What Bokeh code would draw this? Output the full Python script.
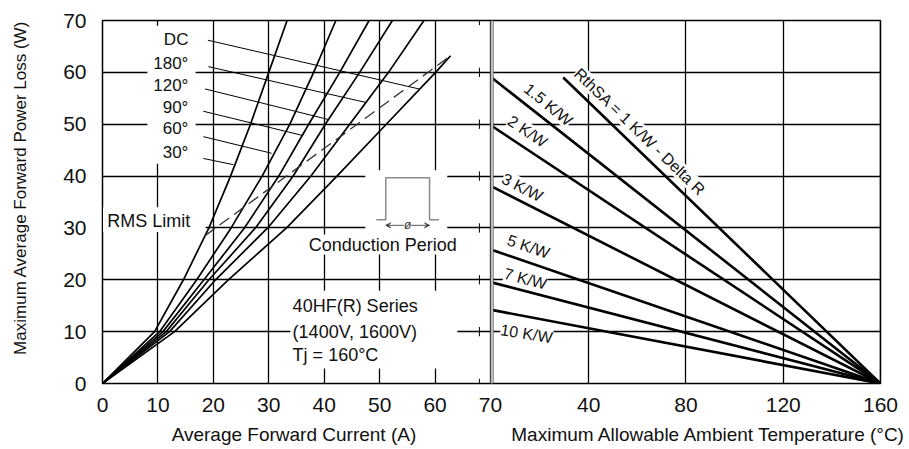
from bokeh.plotting import figure
from bokeh.models import (Label, BoxAnnotation, FixedTicker, Range1d, Arrow, VeeHead)
from bokeh.embed import file_html
from bokeh.resources import INLINE

FONT = "Liberation Sans"

# ---------------- data: left panel (power loss vs average current) ----------------
power_levels = [0, 10, 20, 30, 40, 50, 60, 70]
current_30deg = [0, 9.4, 14.6, 19.2, 23.1, 26.7, 30.0, 33.3]
current_60deg = [0, 10.3, 17.0, 23.2, 28.8, 33.8, 38.1, 42.1]
current_90deg = [0, 10.9, 18.3, 25.6, 31.8, 37.2, 42.8, 48.1]
current_120deg = [0, 11.5, 19.2, 27.6, 34.4, 40.2, 46.4, 52.3]
current_180deg = [0, 12.1, 20.4, 29.8, 37.6, 44.6, 51.6, 58.0]
dc_current = [0, 13.0, 22.7, 33.2, 42.3, 51.2, 60.1, 62.8]
dc_power = [0, 10, 20, 30, 40, 50, 60, 63.2]
rms_limit_current = [18.5, 62.8]
rms_limit_power = [28.5, 63.2]

curve_labels = ["30°", "60°", "90°", "120°", "180°", "DC"]
curve_label_power = [44.6, 49.1, 53.2, 57.4, 61.8, 66.3]
leader_start_current = [18.2, 18.2, 18.2, 18.5, 19.1, 19.0]
leader_start_power = [43.4, 47.6, 52.5, 56.8, 61.1, 66.2]
leader_end_current = [23.6, 30.5, 36.2, 40.8, 47.5, 57.1]
leader_end_power = [42.2, 44.4, 47.8, 50.9, 54.2, 56.8]

current_ticks = [0, 10, 20, 30, 40, 50, 60, 70]
power_ticks = [0, 10, 20, 30, 40, 50, 60, 70]

# ---------------- data: right panel (ambient temperature) ----------------
rth_labels = ["RthSA  = 1 K/W - Delta R", "1.5 K/W", "2 K/W", "3 K/W", "5 K/W", "7 K/W", "10 K/W"]
rth_start_temp = [29.5, 0, 0, 0, 0, 0, 0]
rth_start_power = [59.0, 59.0, 49.7, 38.0, 25.8, 19.5, 14.2]
rth_end_temp = 160
rth_end_power = 0
rth_label_temp = [61.7, 23.4, 14.8, 12.7, 15.2, 14.0, 14.4]
rth_label_power = [48.2, 53.8, 48.6, 37.8, 26.4, 20.2, 9.6]
rth_label_angle = [-44, -39, -34, -27, -19, -15, -9]
temp_ticks = [40, 80, 120, 160]

x_title_left = "Average Forward Current (A)"
x_title_right = "Maximum Allowable Ambient Temperature (°C)"
y_title = "Maximum Average Forward Power Loss (W)"

# ---------------- layout (pixels) ----------------
W, H = 909, 449
FRAME_LEFT, FRAME_RIGHT_BORDER, FRAME_TOP, FRAME_BOTTOM_BORDER = 102, 29, 20, 66
FRAME_W = W - FRAME_LEFT - FRAME_RIGHT_BORDER          # 778
FRAME_H = H - FRAME_TOP - FRAME_BOTTOM_BORDER
LEFT_PANEL_W = 388                                       # px used by the current panel
A_MAX = 70
P_MAX = 70
px_per_A = LEFT_PANEL_W / A_MAX
x_end = FRAME_W / px_per_A
T0_PX = 389                                              # px from frame left where 0 degC sits
T_MAX = 160
px_per_T = (FRAME_W - T0_PX) / T_MAX
t_start = -T0_PX / px_per_T


def temp_to_current_units(t):
    return (T0_PX + t * px_per_T) / px_per_A


p = figure(width=W, height=H, x_range=Range1d(0, x_end), y_range=Range1d(0, P_MAX),
           min_border_left=FRAME_LEFT, min_border_right=FRAME_RIGHT_BORDER,
           min_border_top=FRAME_TOP, min_border_bottom=FRAME_BOTTOM_BORDER,
           output_backend="svg", toolbar_location=None)
p.extra_x_ranges = {"temp": Range1d(t_start, T_MAX)}

p.background_fill_color = "white"
p.border_fill_color = "white"
p.outline_line_color = "black"
p.outline_line_width = 1.5

temp_tick_pos = [round(temp_to_current_units(t), 4) for t in temp_ticks]
all_ticks = current_ticks + temp_tick_pos
p.xaxis.ticker = FixedTicker(ticks=all_ticks)
p.xaxis.major_label_overrides = {pos: str(t) for pos, t in zip(temp_tick_pos, temp_ticks)}
p.yaxis.ticker = FixedTicker(ticks=power_ticks)
for ax in (p.xaxis, p.yaxis):
    ax.axis_line_color = None
    ax.major_tick_line_color = None
    ax.minor_tick_line_color = None
    ax.major_label_text_font = FONT
    ax.major_label_text_font_size = "21px"
    ax.major_label_text_color = "#111111"
    ax.axis_label_text_font = FONT
    ax.axis_label_text_font_style = "normal"
    ax.axis_label_text_color = "#111111"
p.xaxis.major_label_standoff = 8
p.yaxis.major_label_standoff = 10

# both x titles share the single bottom axis label; no-break spaces place them
NBSP = "\u00a0"
p.xaxis.axis_label = NBSP * 18 + x_title_left + NBSP * 18 + x_title_right
p.xaxis.axis_label_text_font_size = "19px"
p.xaxis.axis_label_standoff = 9
p.yaxis.axis_label = NBSP * 6 + y_title
p.yaxis.axis_label_text_font_size = "17px"
p.yaxis.axis_label_standoff = 30

p.xgrid.ticker = FixedTicker(ticks=all_ticks)
p.ygrid.ticker = FixedTicker(ticks=power_ticks)
for g in (p.xgrid, p.ygrid):
    g.grid_line_color = "black"
    g.grid_line_width = 1.3

# white masks behind texts (cut the grid)
masks = [
    dict(left=8.1, right=16.8, bottom=42.4, top=69.0),
    dict(left=0.1, right=18.6, bottom=29.2, top=34.0),
    dict(left=47.4, right=62.2, bottom=25.1, top=41.1),
    dict(left=33.9, right=64.0, bottom=2.9, top=17.9),
]
for m in masks:
    p.add_layout(BoxAnnotation(fill_color="white", fill_alpha=1, line_alpha=0,
                               level="underlay", **m))

# ---------------- left panel curves ----------------
curves = [current_30deg, current_60deg, current_90deg, current_120deg, current_180deg]
for c in curves:
    p.line(c, power_levels, line_color="black", line_width=1.7)
p.line(dc_current, dc_power, line_color="black", line_width=1.7)
p.line(rms_limit_current, rms_limit_power, line_color="#333333", line_width=1.3,
       line_dash="12 6")
p.segment(x0=leader_start_current, y0=leader_start_power,
          x1=leader_end_current, y1=leader_end_power, line_color="black", line_width=1)

for lab, pw in zip(curve_labels, curve_label_power):
    p.add_layout(Label(x=15.5, y=pw, text=lab, text_align="right", text_baseline="middle",
                       text_font=FONT, text_font_size="17px", text_color="#111111"))

# small cross ticks along the left panel's right side
cross_x = 68.0
p.segment(x0=[cross_x] * len(power_ticks), y0=[v - 0.9 for v in power_ticks],
          x1=[cross_x] * len(power_ticks), y1=[v + 0.9 for v in power_ticks],
          line_color="black", line_width=1)

p.add_layout(Label(x=0.85, y=31.4, text="RMS Limit", text_align="left", text_baseline="middle",
                   text_font=FONT, text_font_size="18px", text_color="#111111"))
p.add_layout(Label(x=37.2, y=26.8, text="Conduction Period", text_align="left",
                   text_baseline="middle", text_font=FONT, text_font_size="18px",
                   text_color="#111111", background_fill_color="white", level="underlay"))
for txt, yy in zip(["40HF(R) Series", "(1400V, 1600V)", "Tj = 160°C"], [15.0, 9.9, 5.4]):
    p.add_layout(Label(x=34.3, y=yy, text=txt, text_align="left", text_baseline="middle",
                       text_font=FONT, text_font_size="18px", text_color="#111111"))

# conduction-period pulse icon
pulse_x = [49.4, 51.1, 51.1, 59.0, 59.0, 60.7]
pulse_y = [31.6, 31.6, 39.7, 39.7, 31.6, 31.6]
p.line(pulse_x, pulse_y, line_color="#8a8a8a", line_width=1.5)
mid = (51.1 + 59.0) / 2
for xe in (51.1, 59.0):
    p.add_layout(Arrow(end=VeeHead(size=5, line_color="#555555", line_width=1),
                       x_start=mid, y_start=30.5, x_end=xe, y_end=30.5,
                       line_color="#555555", line_width=1))
p.add_layout(Label(x=mid, y=30.6, text="ø", text_align="center", text_baseline="middle",
                   text_font=FONT, text_font_size="12px", text_font_style="italic",
                   background_fill_color="white", text_color="#333333"))

# ---------------- right panel ----------------
xs = [[t0, rth_end_temp] for t0 in rth_start_temp]
ys = [[w0, rth_end_power] for w0 in rth_start_power]
p.multi_line(xs, ys, x_range_name="temp", line_color="black", line_width=2.6)

for lab, tt, ww, ang in zip(rth_labels, rth_label_temp, rth_label_power, rth_label_angle):
    p.add_layout(Label(x=tt, y=ww, x_range_name="temp", text=lab, angle=ang, angle_units="deg",
                       text_align="center", text_baseline="middle", text_font=FONT,
                       text_font_size="16px", text_color="#111111",
                       background_fill_color="white", level="underlay"))

# double border between panels
p.add_layout(BoxAnnotation(left=70, right=70.54, fill_color="#bdbdbd", fill_alpha=1,
                           line_color="black", line_width=1))

open("out.html", "w").write(file_html(p, INLINE))
